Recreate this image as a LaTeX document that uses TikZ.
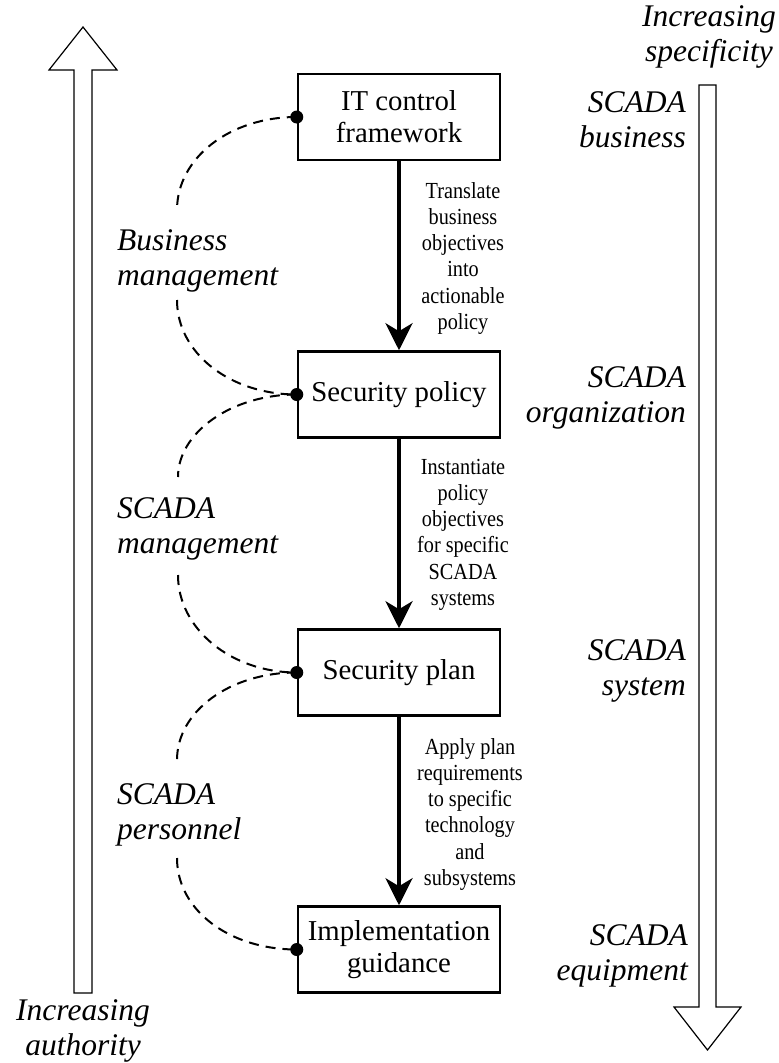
\documentclass[tikz,border=0pt]{standalone}
\usepackage{fontspec}
\setmainfont{Liberation Serif}
\newfontfamily\condfont[FakeStretch=0.88]{Liberation Serif}
\usetikzlibrary{arrows.meta}
\begin{document}
\begin{tikzpicture}[x=1pt,y=-1pt,
  box/.style={draw, line width=2.5pt, minimum width=202pt, minimum height=86pt, inner sep=0pt, align=center, font=\fontsize{28.8}{32}\selectfont},
  flow/.style={line width=4pt, -{Stealth[length=27pt,width=27pt,inset=8pt]}},
  tie/.style={dash pattern=on 10pt off 7pt, line width=2pt},
  role/.style={inner sep=0pt, font=\fontsize{31.5}{35}\selectfont\itshape},
  note/.style={inner sep=0pt, align=center, font=\fontsize{23}{26.3}\selectfont\condfont},
  hollow/.style={draw, line width=1.2pt, fill=white, line join=miter}]
\useasboundingbox (0,0) rectangle (779,1063);
% hollow arrows
\draw[hollow] (74,993) -- (74,70) -- (49,70) -- (83,27) -- (117,70) -- (92,70) -- (92,993) -- cycle;
\draw[hollow] (699,85) -- (716,85) -- (716,1007) -- (741,1007) -- (707.5,1050) -- (674,1007) -- (699,1007) -- cycle;
% boxes
\node[box] (b1) at (399,117) {IT control\\framework};
\node[box] (b2) at (399,394.5) {Security policy};
\node[box] (b3) at (399,672.5) {Security plan};
\node[box] (b4) at (399,949.5) {Implementation\\guidance};
% flow arrows
\draw[flow] (b1.south) -- (b2.north);
\draw[flow] (b2.south) -- (b3.north);
\draw[flow] (b3.south) -- (b4.north);
% arrow labels (base = last line)
\node[note, anchor=base] (n1) at (463,329.5) {Translate\\business\\objectives\\into\\actionable\\policy};
\node[note, anchor=base] (n2) at (463,605.5) {Instantiate\\policy\\objectives\\for specific\\SCADA\\systems};
\node[note, anchor=base] (n3) at (470,885.5) {Apply plan\\requirements\\to specific\\technology\\and\\subsystems};
% dashed ties
\coordinate (t1) at (177,210); \coordinate (u1) at (177,300);
\coordinate (t2) at (178,477); \coordinate (u2) at (178,575);
\coordinate (t3) at (177,760); \coordinate (u3) at (177,858);
\draw[tie] (b1.west) .. controls +(-67,0) and +(0,-52) .. (t1);
\draw[tie] (u1) .. controls +(0,53) and +(-67,0) .. (b2.west);
\draw[tie] (b2.west) .. controls +(-66,0) and +(0,-44) .. (t2);
\draw[tie] (u2) .. controls +(0,53.6) and +(-66,0) .. (b3.west);
\draw[tie] (b3.west) .. controls +(-67,0) and +(0,-48.6) .. (t3);
\draw[tie] (u3) .. controls +(0,52.5) and +(-67,0) .. (b4.west);
\foreach \b in {b1,b2,b3,b4} \fill (\b.west) circle (6.5pt);
% left labels
\node[role, anchor=base west, align=left] (l1) at (117,285) {Business\\management};
\node[role, anchor=base west, align=left] (l2) at (117,553) {SCADA\\management};
\node[role, anchor=base west, align=left] (l3) at (117,839) {SCADA\\personnel};
% right labels
\node[role, anchor=base east, align=right] (r1) at (686,147) {SCADA\\business};
\node[role, anchor=base east, align=right] (r2) at (686,422) {SCADA\\organization};
\node[role, anchor=base east, align=right] (r3) at (686,695) {SCADA\\system};
\node[role, anchor=base east, align=right] (r4) at (688,980) {SCADA\\equipment};
% axis labels
\node[role, anchor=base, align=center] (ta) at (709,61) {Increasing\\specificity};
\node[role, anchor=base, align=center] (ba) at (83,1055) {Increasing\\authority};
\end{tikzpicture}
\end{document}
